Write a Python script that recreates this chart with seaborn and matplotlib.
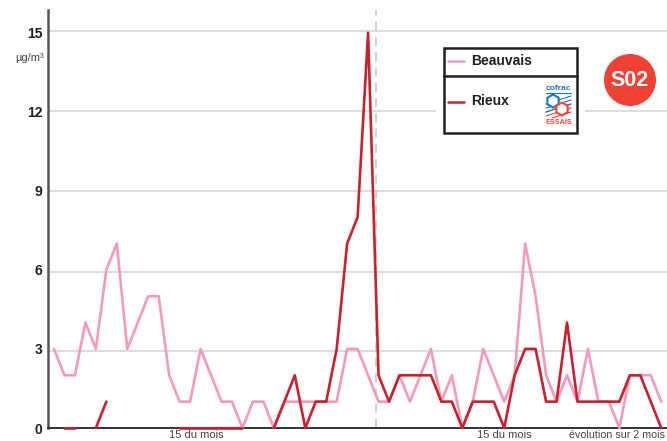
import numpy as np
import pandas as pd
import matplotlib
matplotlib.use("Agg")
import matplotlib.pyplot as plt
from matplotlib.patches import Circle, Rectangle, RegularPolygon
import seaborn as sns

nan = np.nan
beauvais = [3, 2, 2, 4, 3, 6, 7, 3, 4, 5, 5, 2, 1, 1, 3, 2, 1, 1, 0, 1,
            1, 0, 1, 1, 1, 1, 1, 1, 3, 3, 2, 1, 1, 2, 1, 2, 3, 1, 2, 0,
            1, 3, 2, 1, 2, 7, 5, 2, 1, 2, 1, 3, 1, 1, 0, 2, 2, 2, 1]
rieux = [nan, 0, 0, nan, 0, 1, nan, nan, nan, nan, nan, nan, 0, 0, 0, 0, 0, 0, 0, nan,
         nan, 0, 1, 2, 0, 1, 1, 3, 7, 8, 15, 2, 1, 2, 2, 2, 2, 1, 1, 0,
         1, 1, 1, 0, 2, 3, 3, 1, 1, 4, 1, 1, 1, 1, 1, 2, 2, 1, 0]
y_ticks = [0, 3, 6, 9, 12, 15]
grid_levels = [2.92, 5.92, 8.99, 12.03, 15.07]
x_ticks = [13.6, 43]
x_tick_labels = ["15 du mois", "15 du mois"]

PINK = "#F598BE"
RED = "#C9202E"
DARK = "#231F20"
BLUE = "#1B75BC"
ORANGE = "#EF4136"

sns.set_theme(style="white")
plt.rcParams["font.family"] = ["Liberation Sans", "DejaVu Sans"]

df = pd.DataFrame({"jour": range(len(beauvais)), "Beauvais": beauvais, "Rieux": rieux})
df["run"] = df["Rieux"].isna().cumsum()

fig = plt.figure(figsize=(6.67, 4.41), dpi=100)
ax = fig.add_axes([48 / 667, 13 / 441, 619 / 667, 418 / 441])

for lvl in grid_levels:
    ax.axhline(lvl, color="#D2D2D2", lw=1.1, zorder=1)
ax.axvline(30.75, color="#C4C4C4", lw=1.1, ls=(0, (6, 4)), zorder=1)

sns.lineplot(data=df, x="jour", y="Beauvais", color=PINK, lw=1.9, ax=ax, zorder=3, clip_on=False)
# the Rieux series has holes, one line per unbroken run
for _, part in df.dropna(subset=["Rieux"]).groupby("run"):
    sns.lineplot(data=part, x="jour", y="Rieux", color=RED, lw=1.9, ax=ax, zorder=4, clip_on=False)

ax.set_xlim(-0.573, 58.55)
ax.set_ylim(0, 15.86)
ax.set_xlabel("")
ax.set_ylabel("")
ax.set_yticks(y_ticks)
ax.set_yticklabels(y_ticks, fontsize=10, fontweight="bold", color=DARK)
ax.set_xticks(x_ticks)
ax.set_xticklabels(x_tick_labels, fontsize=8, color="#444444")
ax.tick_params(axis="x", direction="in", length=4, width=0.8, color=DARK, pad=1.5)
ax.tick_params(axis="y", length=0, pad=4)
sns.despine(ax=ax)
ax.spines["left"].set_color("#555555")
ax.spines["left"].set_linewidth(1.8)
ax.spines["bottom"].set_color("#333333")
ax.spines["bottom"].set_linewidth(1.4)

# overlay in pixel coordinates for the legend box, logo and badge
ov = fig.add_axes([0, 0, 1, 1], zorder=10)
ov.set_xlim(0, 667)
ov.set_ylim(441, 0)
ov.axis("off")

ov.text(30, 58, "µg/m³", fontsize=8, color="#444444", ha="center", va="center")
ov.text(665, 435.5, "évolution sur 2 mois", fontsize=7.7, color="#444444", ha="right", va="center")

ov.add_patch(Rectangle((436, 42), 149, 96, fc="white", ec="none"))
ov.add_patch(Rectangle((444, 48), 133, 85, fc="white", ec=DARK, lw=1.8))
ov.plot([444, 577], [76, 76], color=DARK, lw=1.8)
ov.plot([448, 464], [61, 61], color=PINK, lw=1.8)
ov.plot([448, 464], [102, 102], color=RED, lw=1.8)
ov.text(471, 61, "Beauvais", fontsize=10, fontweight="bold", color=DARK, va="center")
ov.text(471, 101, "Rieux", fontsize=10, fontweight="bold", color=DARK, va="center")

# cofrac logo
ov.text(558.5, 88.5, "cofrac", fontsize=6, fontweight="bold", color=BLUE, ha="center", va="center")
ov.plot([546, 571], [93, 93], color=BLUE, lw=0.8)
for off in (0, 4, 8):
    ov.plot([546, 571], [104 + off, 96 + off], color=BLUE, lw=0.8)
    ov.plot([546, 571], [112 + off, 104 + off], color=ORANGE, lw=0.8)
ov.add_patch(RegularPolygon((553, 101), 6, radius=6.5, fc="white", ec=BLUE, lw=1.5, zorder=3))
ov.add_patch(RegularPolygon((562, 109), 6, radius=6.5, fc="white", ec=ORANGE, lw=1.5, zorder=3))
ov.add_patch(Rectangle((545, 118), 27, 9, fc="white", ec="none", zorder=3))
ov.text(558.5, 122.5, "ESSAIS", fontsize=5.2, fontweight="bold", color=ORANGE, ha="center", va="center", zorder=4)

ov.add_patch(Circle((630, 80), 26, fc=ORANGE, ec="none"))
ov.text(630, 80, "S02", fontsize=15.5, fontweight="bold", color="white", ha="center", va="center")

fig.savefig("out.png", dpi=100)
